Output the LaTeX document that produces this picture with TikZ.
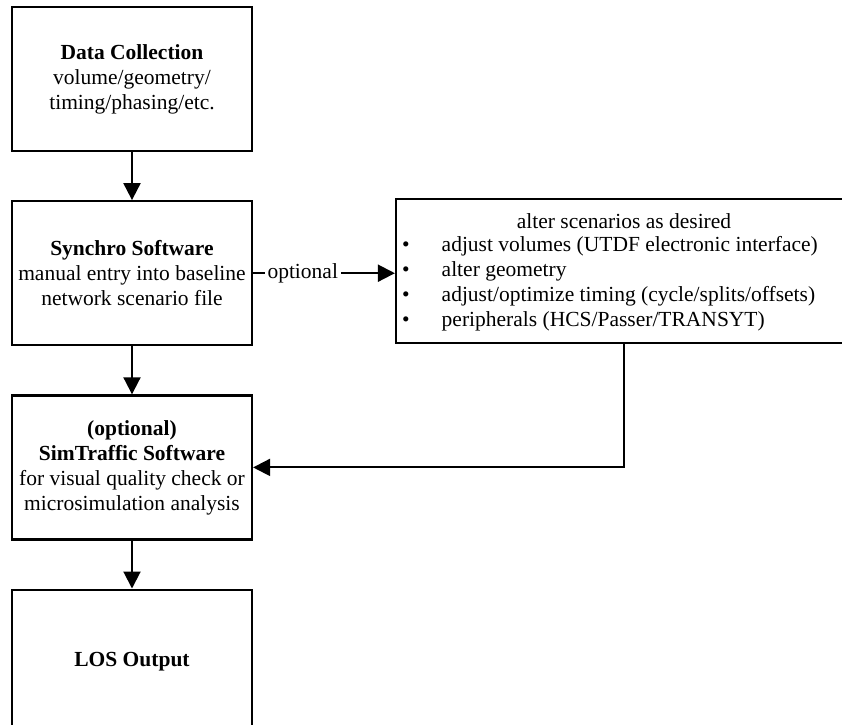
\documentclass[tikz,border=0pt]{standalone}
\usepackage{fontspec}
\setmainfont{Liberation Serif}
\usepackage{tikz}
\usetikzlibrary{arrows.meta}
\usetikzlibrary{positioning}

\begin{document}
\begin{tikzpicture}[x=1pt,y=-1pt,node distance=48pt]
        \tikzstyle{every node}=[font=\fontsize{21.5}{25}\selectfont,inner sep=0pt]
        \tikzstyle{stage}=[draw,line width=2.2pt,minimum width=240pt,minimum height=144pt,align=center]
        \tikzstyle{flow}=[line width=2pt,-{Triangle[length=17pt,width=17pt]}]
        \useasboundingbox (0,0) rectangle (842,724);
        % main column
        \node[stage] (data) at (132,79) {\textbf{Data Collection}\\volume/geometry/\\timing/phasing/etc.};
        \node[stage,below=of data] (synchro) {\textbf{Synchro Software}\\manual entry into baseline\\network scenario file};
        \node[stage,below=of synchro] (simtraffic) {\textbf{(optional)}\\\textbf{SimTraffic Software}\\for visual quality check or\\microsimulation analysis};
        \node[stage,below=of simtraffic] (los) {\textbf{LOS Output}};
        % scenario box (runs past the right edge)
        \node[draw,line width=2.2pt,minimum width=456pt,minimum height=144pt] (alter) at (624,271) {};
        \node (altertitle) at (624,221) {alter scenarios as desired};
        \node[anchor=west] (alterlist) at (402,284) {%
          \begin{tabular}{@{}l@{\hspace{32pt}}l@{}}
            \textbullet & adjust volumes (UTDF electronic interface)\\
            \textbullet & alter geometry\\
            \textbullet & adjust/optimize timing (cycle/splits/offsets)\\
            \textbullet & peripherals (HCS/Passer/TRANSYT)
          \end{tabular}};
        % connectors
        \draw[flow] (data) -- (synchro);
        \draw[flow] (synchro) -- (simtraffic);
        \draw[flow] (simtraffic) -- (los);
        \draw[flow] (synchro.east) -- node[pos=0.35,fill=white,inner sep=3pt] (optlabel) {optional} (synchro.east -| alter.west);
        \draw[flow] (alter.south) |- (simtraffic);
\end{tikzpicture}
\end{document}
